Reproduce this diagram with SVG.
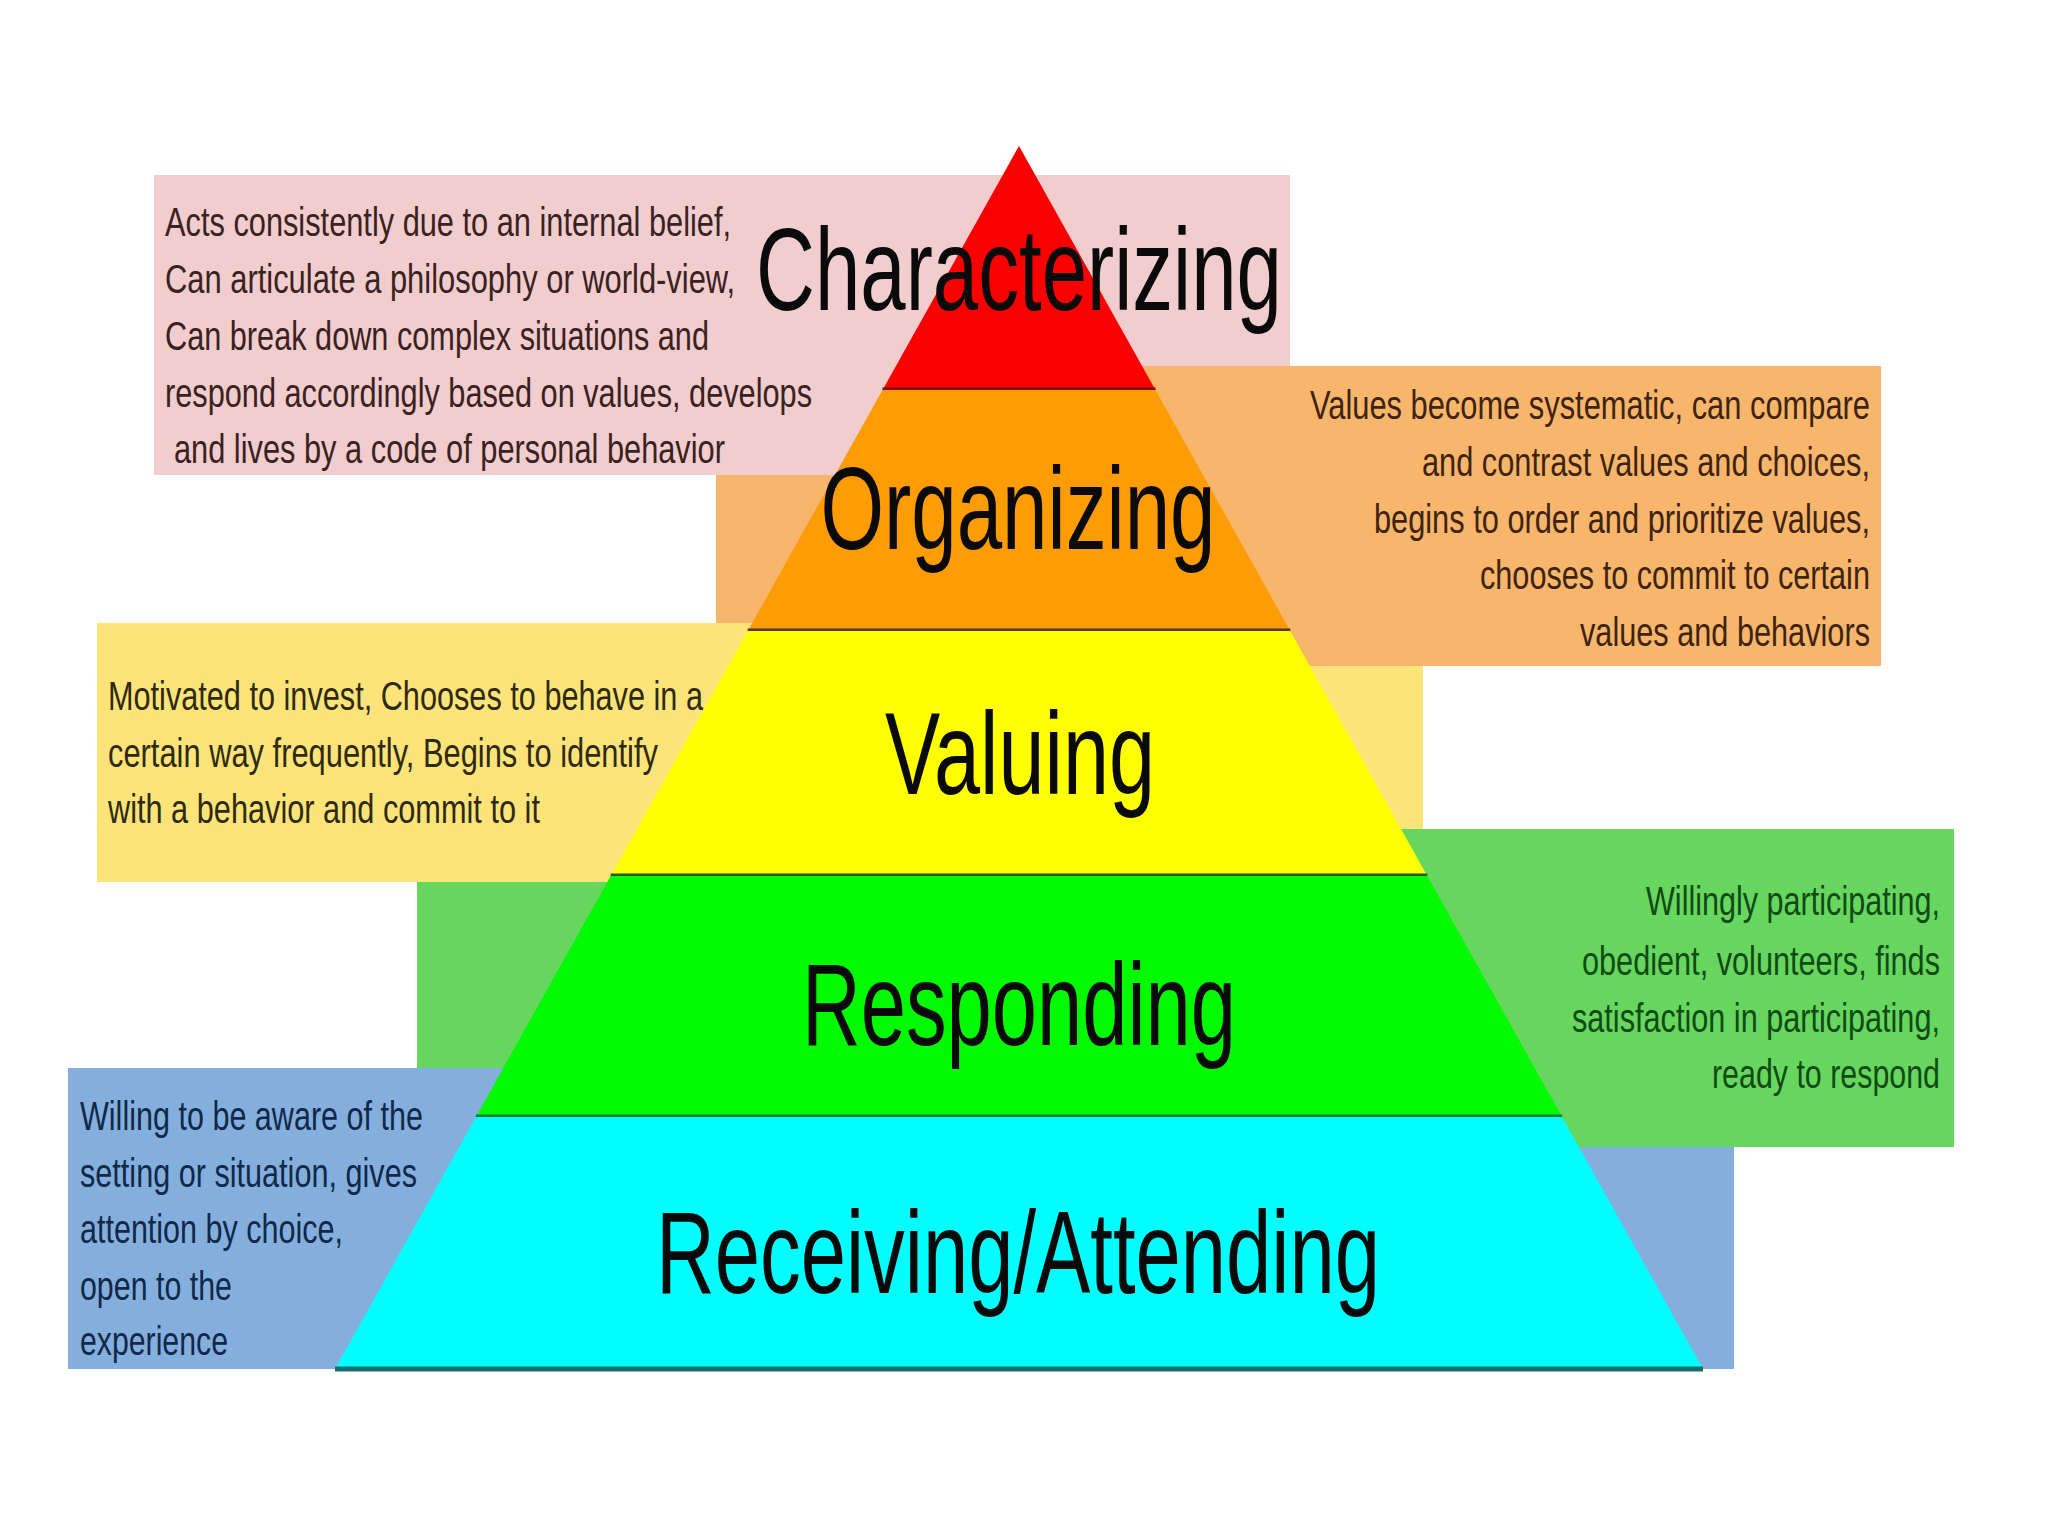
<svg xmlns="http://www.w3.org/2000/svg" width="2048" height="1536" viewBox="0 0 2048 1536">
<style>
.desc{font-family:"Liberation Sans",Arial,sans-serif;font-size:40px}
.lbl{font-family:"Liberation Sans",Arial,sans-serif;font-size:116px;fill:#0a0a0a;text-anchor:middle}
.r{text-anchor:end}
.sep{stroke-width:5;fill:none}
</style>
<rect width="2048" height="1536" fill="#ffffff"/>
<g id="box-characterizing">
<polygon points="154,175 1290,175 1290,366 1019,366 1019,475 154,475" fill="#f1cdcd"/>
</g>
<g id="box-organizing">
<polygon points="716,475 1019,475 1019,366 1881,366 1881,666 1019,666 1019,623 716,623" fill="#f8b56c"/>
</g>
<g id="box-valuing">
<polygon points="97,623 1019,623 1019,666 1423,666 1423,829 1019,829 1019,882 97,882" fill="#fde47a"/>
</g>
<g id="box-responding">
<polygon points="417,882 1019,882 1019,829 1954,829 1954,1147 1019,1147 1019,1068 417,1068" fill="#67d65f"/>
</g>
<g id="box-receiving">
<polygon points="68,1068 1019,1068 1019,1147 1734,1147 1734,1369 68,1369" fill="#84afdc"/>
</g>
<g id="level-characterizing">
<polygon points="1019,146 1155.5,390 882.5,390" fill="#fb0000"/>
<line class="sep" x1="882.5" y1="390" x2="1155.5" y2="390" stroke="#7a1200"/>
</g>
<g id="level-organizing">
<polygon points="882.5,390 1155.5,390 1290.3,631 747.7,631" fill="#fd9c04"/>
<line class="sep" x1="747.7" y1="631" x2="1290.3" y2="631" stroke="#5a3400"/>
</g>
<g id="level-valuing">
<polygon points="747.7,631 1290.3,631 1427.3,876 610.7,876" fill="#ffff00"/>
<line class="sep" x1="610.7" y1="876" x2="1427.3" y2="876" stroke="#1f5a06"/>
</g>
<g id="level-responding">
<polygon points="610.7,876 1427.3,876 1562.1,1117 475.9,1117" fill="#00fa00"/>
<line class="sep" x1="475.9" y1="1117" x2="1562.1" y2="1117" stroke="#0a7a3a"/>
</g>
<g id="level-receiving">
<polygon points="475.9,1117 1562.1,1117 1703,1369 335,1369" fill="#00ffff"/>
<line class="sep" x1="335" y1="1369" x2="1703" y2="1369" stroke="#1a6b6b"/>
</g>
<g id="labels" transform="scale(0.7,1)">
<text class="lbl" x="1455.7" y="310" textLength="751.4" lengthAdjust="spacingAndGlyphs">Characterizing</text>
<text class="lbl" x="1454.3" y="549" textLength="564.3" lengthAdjust="spacingAndGlyphs">Organizing</text>
<text class="lbl" x="1457.1" y="794" textLength="385.7" lengthAdjust="spacingAndGlyphs">Valuing</text>
<text class="lbl" x="1455.7" y="1045" textLength="620" lengthAdjust="spacingAndGlyphs">Responding</text>
<text class="lbl" x="1454.3" y="1293" textLength="1034.3" lengthAdjust="spacingAndGlyphs">Receiving/Attending</text>
</g>
<g id="text-characterizing" class="desc" fill="#3a2222" transform="scale(0.74,1)">
<text x="223" y="236" textLength="764.9" lengthAdjust="spacingAndGlyphs">Acts consistently due to an internal belief,</text>
<text x="223" y="293" textLength="770.3" lengthAdjust="spacingAndGlyphs">Can articulate a philosophy or world-view,</text>
<text x="223" y="350" textLength="735.1" lengthAdjust="spacingAndGlyphs">Can break down complex situations and</text>
<text x="223" y="407" textLength="874.3" lengthAdjust="spacingAndGlyphs">respond accordingly based on values, develops</text>
<text x="235.1" y="463" textLength="744.6" lengthAdjust="spacingAndGlyphs">and lives by a code of personal behavior</text>
</g>
<g id="text-organizing" class="desc r" fill="#3d2410" transform="scale(0.74,1)">
<text class="r" x="2527" y="419" textLength="756.8" lengthAdjust="spacingAndGlyphs">Values become systematic, can compare</text>
<text class="r" x="2527" y="476" textLength="605.4" lengthAdjust="spacingAndGlyphs">and contrast values and choices,</text>
<text class="r" x="2527" y="533" textLength="670.3" lengthAdjust="spacingAndGlyphs">begins to order and prioritize values,</text>
<text class="r" x="2527" y="589" textLength="527" lengthAdjust="spacingAndGlyphs">chooses to commit to certain</text>
<text class="r" x="2527" y="646" textLength="391.9" lengthAdjust="spacingAndGlyphs">values and behaviors</text>
</g>
<g id="text-valuing" class="desc" fill="#2e2a10" transform="scale(0.74,1)">
<text x="145.9" y="710" textLength="804.1" lengthAdjust="spacingAndGlyphs">Motivated to invest, Chooses to behave in a</text>
<text x="145.9" y="767" textLength="743.2" lengthAdjust="spacingAndGlyphs">certain way frequently, Begins to identify</text>
<text x="145.9" y="823" textLength="583.8" lengthAdjust="spacingAndGlyphs">with a behavior and commit to it</text>
</g>
<g id="text-responding" class="desc" fill="#104a14" transform="scale(0.74,1)">
<text class="r" x="2621.6" y="915" textLength="397.3" lengthAdjust="spacingAndGlyphs">Willingly participating,</text>
<text class="r" x="2621.6" y="975" textLength="483.8" lengthAdjust="spacingAndGlyphs">obedient, volunteers, finds</text>
<text class="r" x="2621.6" y="1032" textLength="497.3" lengthAdjust="spacingAndGlyphs">satisfaction in participating,</text>
<text class="r" x="2621.6" y="1088" textLength="308.1" lengthAdjust="spacingAndGlyphs">ready to respond</text>
</g>
<g id="text-receiving" class="desc" fill="#10284a" transform="scale(0.74,1)">
<text x="108.1" y="1130" textLength="463.5" lengthAdjust="spacingAndGlyphs">Willing to be aware of the</text>
<text x="108.1" y="1187" textLength="455.4" lengthAdjust="spacingAndGlyphs">setting or situation, gives</text>
<text x="108.1" y="1243" textLength="355.4" lengthAdjust="spacingAndGlyphs">attention by choice,</text>
<text x="108.1" y="1300" textLength="205.4" lengthAdjust="spacingAndGlyphs">open to the</text>
<text x="108.1" y="1355" textLength="200" lengthAdjust="spacingAndGlyphs">experience</text>
</g>
</svg>
